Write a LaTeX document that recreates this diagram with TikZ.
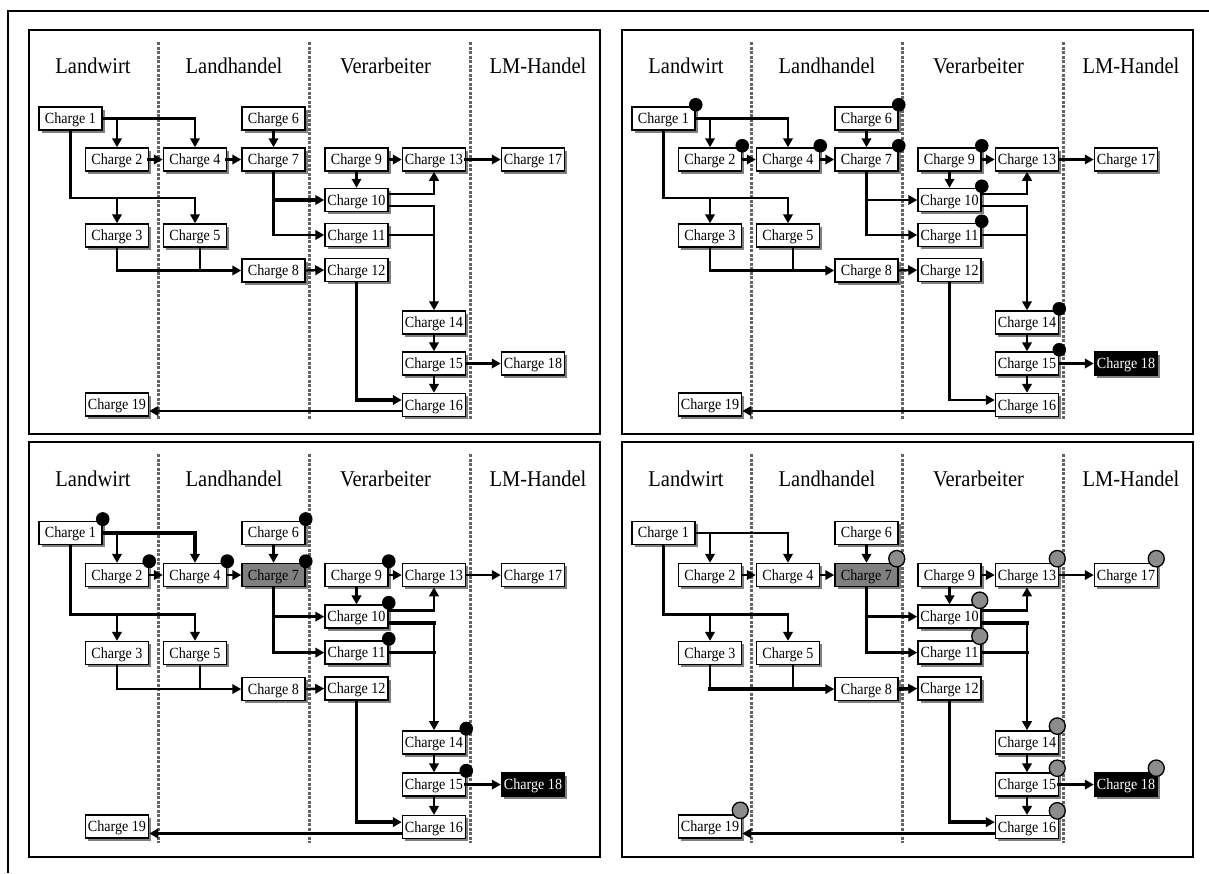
\documentclass[tikz,border=0pt]{standalone}
\usepackage{fontspec}
\setmainfont{Liberation Serif}[FakeStretch=0.91]
\usetikzlibrary{arrows.meta,shadows}

\pgfdeclarelayer{bg}
\pgfsetlayers{bg,main}

\definecolor{lanegray}{RGB}{100,100,100}
\definecolor{markgray}{RGB}{140,140,140}
\definecolor{srcgray}{RGB}{128,128,128}

\tikzset{
  charge/.style={draw, line width=1.5pt, fill=white, minimum width=63pt,
    minimum height=23pt, inner sep=0pt, text height=10pt, text depth=0pt,
    font=\fontsize{15.5}{15.5}\selectfont,
    drop shadow={shadow xshift=2.8pt, shadow yshift=-2.8pt, fill=black!50, opacity=1}},
  lanehead/.style={anchor=base, inner sep=0pt, font=\fontsize{22.5}{22.5}\selectfont},
  lanesep/.style={draw=lanegray, line width=3pt, dash pattern=on 3pt off 1.5pt},
  ln/.style={line width=2.4pt, line cap=rect},
  thk/.style={line width=3.6pt, line cap=rect},
  arr/.style={-{Triangle[length=9pt,width=9.5pt]}},
  blk/.style={fill=black, text=white},
  src/.style={fill=srcgray},
  hi7/.style={}, hi18/.style={},
  sA/.style={ln}, sB/.style={ln}, sC/.style={ln}, sD/.style={ln},
  sE/.style={ln}, sF/.style={ln}, sG/.style={ln}, sH/.style={ln},
  sI/.style={ln}, sJ/.style={ln}, sK/.style={ln}, sL/.style={ln}
}

% one panel of the batch flow, node names prefixed by #1
\newcommand\chargepanel[1]{%
  \begin{pgfonlayer}{bg}
    \draw[line width=1.5pt, fill=white] (0,0) rectangle (571,404);
    \foreach \lx in {129,280,441} \draw[lanesep] (\lx,12) -- (\lx,390);
  \end{pgfonlayer}
  \node[lanehead] (#1h1) at (64,43.3) {Landwirt};
  \node[lanehead] (#1h2) at (205,43.3) {Landhandel};
  \node[lanehead] (#1h3) at (356.5,43.3) {Verarbeiter};
  \node[lanehead] (#1h4) at (509,43.3) {LM-Handel};
  \node[charge] (#1c1) at (41.5,88.5) {Charge 1};
  \node[charge] (#1c2) at (88,129.5) {Charge 2};
  \node[charge] (#1c3) at (88,205.5) {Charge 3};
  \node[charge] (#1c4) at (166,129.5) {Charge 4};
  \node[charge] (#1c5) at (166,205.5) {Charge 5};
  \node[charge] (#1c6) at (244.5,88.5) {Charge 6};
  \node[charge,hi7] (#1c7) at (244.5,129.5) {Charge 7};
  \node[charge] (#1c8) at (244.5,240.5) {Charge 8};
  \node[charge] (#1c9) at (327.5,129.5) {Charge 9};
  \node[charge] (#1c10) at (327.5,170) {Charge 10};
  \node[charge] (#1c11) at (327.5,205) {Charge 11};
  \node[charge] (#1c12) at (327.5,240) {Charge 12};
  \node[charge] (#1c13) at (405,129.5) {Charge 13};
  \node[charge] (#1c14) at (405,292.5) {Charge 14};
  \node[charge] (#1c15) at (405,333.5) {Charge 15};
  \node[charge] (#1c16) at (405,375) {Charge 16};
  \node[charge] (#1c17) at (504,129.5) {Charge 17};
  \node[charge,hi18] (#1c18) at (504,333.5) {Charge 18};
  \node[charge] (#1c19) at (88,374.5) {Charge 19};
  % connectors
  \draw[sA,arr] (#1c1.east) -| (#1c4.north);
  \draw[ln,arr] (#1c1.east -| #1c2.north) -- (#1c2.north);
  \coordinate (#1jA) at (41.5,168);
  \draw[ln,arr] (#1c1.south) -- (#1jA) -| (#1c5.north);
  \draw[ln,arr] (#1jA -| #1c3.north) -- (#1c3.north);
  \draw[sB,arr] (#1c2.east) -- (#1c4.west);
  \draw[sC,arr] (#1c4.east) -- (#1c7.west);
  \draw[ln,arr] (#1c6.south) -- (#1c7.north);
  \draw[ln] (#1c7.south) -- (#1c7.south |- #1c11.west);
  \draw[sD,arr] (#1c7.south |- #1c10.west) -- (#1c10.west);
  \draw[sE,arr] (#1c7.south |- #1c11.west) -- (#1c11.west);
  \draw[ln] (#1c3.south) -- (#1c3.south |- #1c8.west);
  \draw[sF,arr] (#1c3.south |- #1c8.west) -- (#1c8.west);
  \coordinate (#1jB) at ([xshift=5pt]#1c5.south);
  \draw[ln] (#1jB) -- (#1jB |- #1c8.west);
  \draw[sG,arr] (#1c8.east) -- (#1c12.west);
  \draw[sH,arr] (#1c9.east) -- (#1c13.west);
  \draw[ln,arr] (#1c9.south) -- (#1c10.north);
  \draw[ln,arr] ([yshift=6pt]#1c10.east) -| (#1c13.south);
  \coordinate (#1jC) at ([yshift=-6pt]#1c10.east);
  \draw[sI] (#1jC) -- (#1jC -| #1c14.north);
  \draw[ln,arr] (#1jC -| #1c14.north) -- (#1c14.north);
  \draw[sI] (#1c11.east) -- (#1c11.east -| #1c14.north);
  \coordinate (#1jD) at ([yshift=5pt]#1c16.west);
  \draw[ln] (#1c12.south) -- (#1c12.south |- #1jD);
  \draw[sJ,arr] (#1c12.south |- #1jD) -- (#1jD);
  \draw[sK,arr] (#1c13.east) -- (#1c17.west);
  \draw[ln,arr] (#1c14.south) -- (#1c15.north);
  \draw[ln,arr] (#1c15.south) -- (#1c16.north);
  \draw[sL,arr] (#1c15.east) -- (#1c18.west);
  \coordinate (#1jE) at ([yshift=-6pt]#1c16.west);
  \draw[ln,arr] (#1jE) -- (#1jE -| #1c19.east);
}

% markers on the top right corner of a batch
\newcommand\blackmark[1]{\fill ([yshift=1.5pt]#1.north east) circle[radius=6.8pt];}
\newcommand\greymark[1]{\filldraw[fill=markgray, line width=1.3pt] ([xshift=-2pt,yshift=4pt]#1.north east) circle[radius=8pt];}

\begin{document}
\begin{tikzpicture}[x=1pt, y=-1pt]
  \useasboundingbox (0,0) rectangle (1209,873);
  \begin{pgfonlayer}{bg}
    \fill[white] (0,0) rectangle (1209,873);
  \end{pgfonlayer}
  \draw[line width=1.2pt] (8,873) -- (8,11) -- (1209,11);

  \begin{scope}[shift={(29,30)}, sB/.style={thk}, sC/.style={thk}, sD/.style={thk},
      sH/.style={thk}, sJ/.style={thk}, sK/.style={thk}]
    \chargepanel{a}
  \end{scope}

  \begin{scope}[shift={(622,30)}, hi18/.style={blk}]
    \chargepanel{b}
    \foreach \n in {1,2,4,6,7,9,10,11,14,15} {\blackmark{bc\n}}
  \end{scope}

  \begin{scope}[shift={(29,442)}, yscale=1.027, hi7/.style={src}, hi18/.style={blk},
      sA/.style={thk}, sD/.style={thk}, sE/.style={thk}, sI/.style={thk},
      sJ/.style={thk}, sL/.style={thk}]
    \chargepanel{c}
    \foreach \n in {1,2,4,6,7,9,10,11,14,15} {\blackmark{cc\n}}
  \end{scope}

  \begin{scope}[shift={(622,442)}, yscale=1.027, hi7/.style={src}, hi18/.style={blk},
      sD/.style={thk}, sE/.style={thk}, sF/.style={thk}, sG/.style={thk},
      sI/.style={thk}, sJ/.style={thk}, sL/.style={thk}]
    \chargepanel{d}
    \foreach \n in {7,10,11,13,14,15,16,17,18,19} {\greymark{dc\n}}
  \end{scope}
\end{tikzpicture}
\end{document}
